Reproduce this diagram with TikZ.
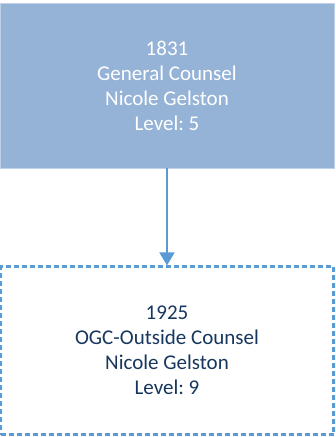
\documentclass[tikz,border=0pt]{standalone}
\usepackage{fontspec}
\setmainfont{Carlito}
\frenchspacing
\usepackage{xcolor}
\usetikzlibrary{positioning, arrows.meta}
\definecolor{headfill}{RGB}{149, 179, 215}
\definecolor{linkblue}{RGB}{91, 155, 213}
\definecolor{textnavy}{RGB}{23, 55, 94}
\tikzset{
    headbox/.style={
        rectangle, draw=headfill!60!white, line width=0.8pt, fill=headfill,
        text=white, minimum width=334pt, minimum height=165pt,
        align=center, font=\fontsize{21}{25}\selectfont
    },
    subbox/.style={
        rectangle, draw=linkblue, line width=2.2pt,
        dash pattern=on 5pt off 3pt, fill=white,
        text=textnavy, minimum width=333pt, minimum height=168pt,
        align=center, font=\fontsize{21}{25}\selectfont
    },
    link/.style={
        -{Triangle[width=15pt, length=13pt]}, line width=2pt, linkblue
    }
}
\begin{document}
\begin{tikzpicture}[x=1pt, y=-1pt]
    \useasboundingbox (0,0) rectangle (336,437);

    % Hộp trên
    \node[headbox] (gc) at (167,85.5) {1831\\General Counsel\\Nicole Gelston\\Level: 5};

    % Hộp dưới (viền chấm)
    \node[subbox, below=97pt of gc.south, anchor=north] (ogc) {1925\\OGC-Outside Counsel\\Nicole Gelston\\Level: 9};

    % Mũi tên nối
    \draw[link] (gc.south) -- (ogc.north);

\end{tikzpicture}
\end{document}
